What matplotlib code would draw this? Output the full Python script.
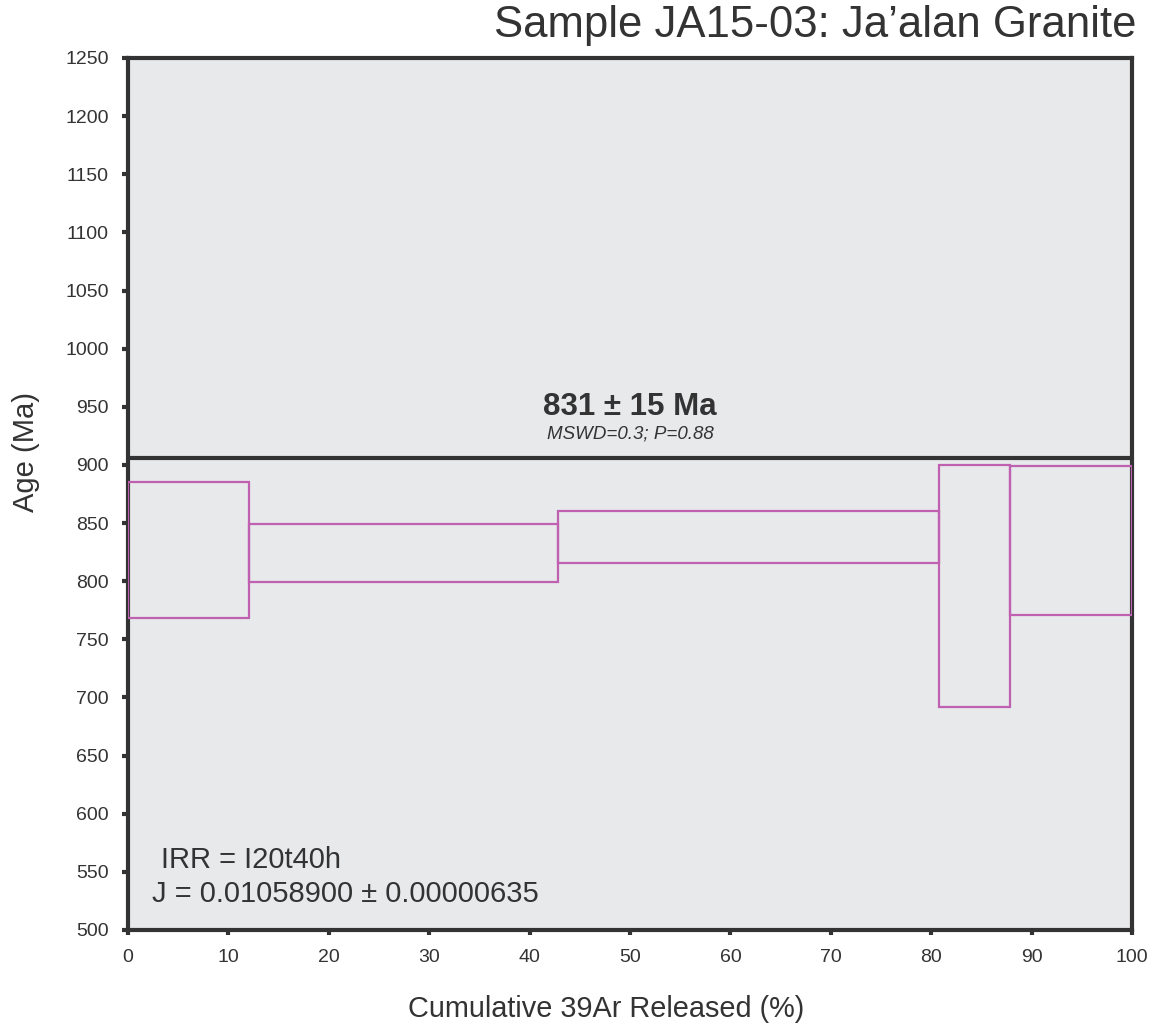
import numpy as np
import matplotlib.pyplot as plt

plt.rcParams['font.family'] = ['Liberation Sans', 'DejaVu Sans']

# step boundaries (cumulative % 39Ar) and 2-sigma age envelopes (Ma)
step_edges = [0, 12.1, 42.8, 80.8, 87.8, 100]
age_upper = [885, 849, 860, 900, 899]
age_lower = [768, 799, 816, 692, 771]

plateau_line = 906
plateau_label = "831 \u00b1 15 Ma"
stats_label = "MSWD=0.3; P=0.88"
irr_label = "IRR = I20t40h"
j_label = "J = 0.01058900 \u00b1 0.00000635"

x_ticks = np.arange(0, 101, 10)
y_ticks = np.arange(500, 1251, 50)

text_col = '#333333'
step_col = '#c060b0'

fig = plt.figure(figsize=(11.59, 10.25), dpi=100)
ax = fig.add_axes([128 / 1159, 1 - 930 / 1025, (1132 - 128) / 1159, (930 - 58) / 1025])
ax.set_facecolor('#e8e9eb')

edges = np.array(step_edges)
widths = np.diff(edges)
lo = np.array(age_lower)
hi = np.array(age_upper)
ax.bar(edges[:-1], hi - lo, width=widths, bottom=lo, align='edge',
       fill=False, edgecolor=step_col, linewidth=1.6, zorder=3)

ax.axhline(plateau_line, color=text_col, linewidth=3, zorder=4)

ax.text(50, 943, plateau_label, ha='center', va='baseline',
        fontsize=22.5, fontweight='bold', color=text_col)
ax.text(50, 923, stats_label, ha='center', va='baseline',
        fontsize=13.5, fontstyle='italic', color=text_col)
ax.text(3.3, 553.5, irr_label, ha='left', va='baseline', fontsize=21, color=text_col)
ax.text(2.4, 524, j_label, ha='left', va='baseline', fontsize=21, color=text_col)

ax.set_xlim(0, 100)
ax.set_ylim(500, 1250)
ax.set_xticks(x_ticks)
ax.set_yticks(y_ticks)
ax.tick_params(axis='y', direction='out', length=4.5, width=3, color=text_col,
               labelsize=14, labelcolor=text_col, pad=9.5)
ax.tick_params(axis='x', direction='out', length=3.5, width=3, color=text_col,
               labelsize=14, labelcolor=text_col, pad=10)
for s in ax.spines.values():
    s.set_linewidth(3)
    s.set_color(text_col)

ax.set_xlabel("Cumulative 39Ar Released (%)", fontsize=20.8, color=text_col)
ax.xaxis.set_label_coords(0.476, -0.075)
ax.set_ylabel("Age (Ma)", fontsize=21, color=text_col)
ax.yaxis.set_label_coords(-0.088, 0.548)

fig.text(1136 / 1159, 1 - 37 / 1025, "Sample JA15-03: Ja\u2019alan Granite",
         ha='right', va='baseline', fontsize=31.5, color=text_col)

fig.savefig('out.png', dpi=100, facecolor='white')
